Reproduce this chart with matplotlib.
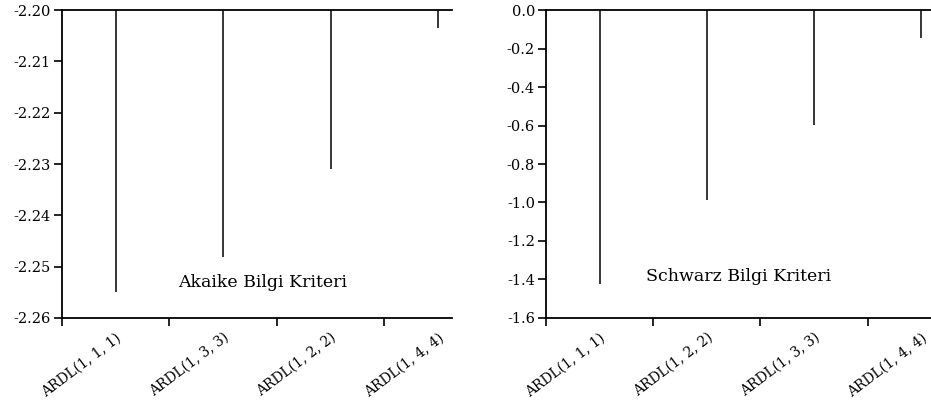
import numpy as np
from matplotlib import pyplot as plt

# Akaike / Schwarz information criteria for ARDL models
aic_models = ['ARDL(1, 1, 1)', 'ARDL(1, 3, 3)', 'ARDL(1, 2, 2)', 'ARDL(1, 4, 4)']
aic_values = [-2.2549, -2.2481, -2.2310, -2.2036]
aic_ticks = [-2.26, -2.25, -2.24, -2.23, -2.22, -2.21, -2.20]

sic_models = ['ARDL(1, 1, 1)', 'ARDL(1, 2, 2)', 'ARDL(1, 3, 3)', 'ARDL(1, 4, 4)']
sic_values = [-1.423, -0.987, -0.597, -0.144]
sic_ticks = [-1.6, -1.4, -1.2, -1.0, -0.8, -0.6, -0.4, -0.2, 0.0]

plt.rcParams['font.family'] = ['DejaVu Serif']
plt.rcParams['font.size'] = 10.5


def spike_panel(ax, models, values, yticks, fmt, label, label_xy, xmax):
    pos = np.arange(len(models)) + 0.5
    top = max(yticks)
    ax.vlines(pos, top, values, color='black', linewidth=1.1)
    ax.set_ylim(min(yticks), top)
    ax.set_xlim(0, xmax)
    ax.set_yticks(yticks)
    ax.set_yticklabels([fmt.format(v) for v in yticks])
    ax.set_xticks(np.arange(len(models)))
    ax.set_xticklabels([])
    ax.set_xticks(pos, minor=True)
    ax.set_xticklabels(models, minor=True, rotation=37, ha='right',
                       rotation_mode='anchor', fontsize=10)
    ax.tick_params(axis='x', which='minor', length=0, pad=9)
    ax.tick_params(axis='both', which='major', direction='out', length=6,
                   width=1.2, pad=2)
    ax.spines['right'].set_visible(False)
    for s in ('left', 'bottom', 'top'):
        ax.spines[s].set_linewidth(1.3)
    ax.text(label_xy[0], label_xy[1], label, transform=ax.transAxes,
            ha='center', va='center', fontsize=12.5)


fig = plt.figure(figsize=(9.31, 4.04), dpi=100)
ax1 = fig.add_axes([0.0666, 0.2129, 0.4189, 0.7623])
ax2 = fig.add_axes([0.5865, 0.2129, 0.4135, 0.7623])

spike_panel(ax1, aic_models, aic_values, aic_ticks, '{:.2f}',
            'Akaike Bilgi Kriteri', (0.515, 0.114), 3.63)
spike_panel(ax2, sic_models, sic_values, sic_ticks, '{:.1f}',
            'Schwarz Bilgi Kriteri', (0.499, 0.136), 3.59)

fig.savefig('out.png', dpi=100)
